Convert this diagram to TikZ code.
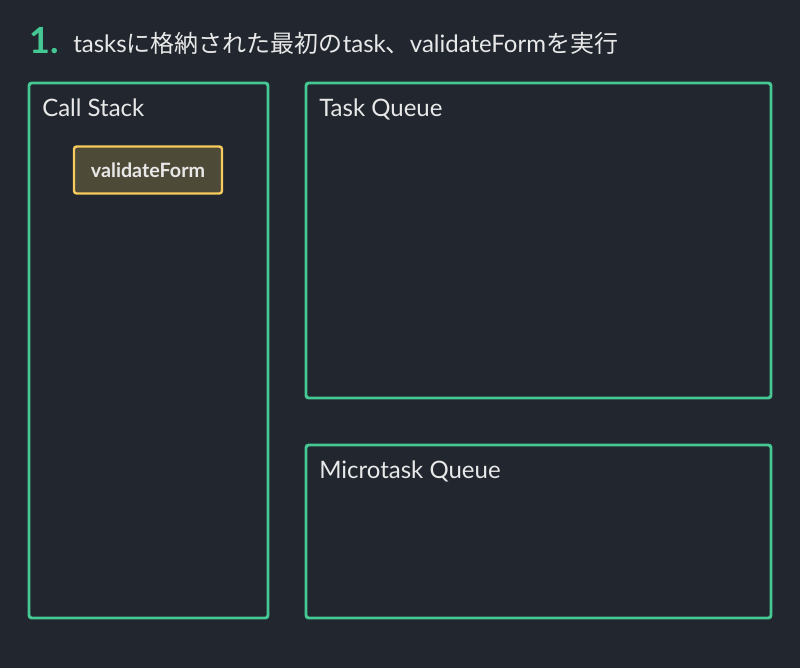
\documentclass[tikz,border=0pt]{standalone}
\usepackage{fontspec}
\setmainfont{Lato}
\newfontfamily\cjk{Noto Sans CJK JP}
\usetikzlibrary{positioning}
\definecolor{bg}{HTML}{21262F}
\definecolor{mygreen}{HTML}{45C893}
\definecolor{myyellow}{HTML}{F7CB5E}
\definecolor{myfill}{HTML}{4E4A38}
\definecolor{mytext}{HTML}{E8E8E8}
\newlength\px
\setlength\px{0.75pt}
\tikzset{
  area/.style={draw=mygreen, line width=2.2pt, rounded corners=2pt, anchor=north west, inner sep=0pt, outer sep=0pt},
  title/.style={anchor=base west, inner sep=0pt, text=mytext, font=\fontsize{18}{20}\selectfont},
  frame/.style={draw=myyellow, fill=myfill, line width=1.8pt, rounded corners=2pt, text=mytext,
    font=\bfseries\fontsize{14.8}{16}\selectfont, minimum width=148\px, minimum height=47\px}
}
\begin{document}
\begin{tikzpicture}[x=0.75pt,y=-0.75pt]
	\fill[bg] (0,0) rectangle (800,668);
	\useasboundingbox (0,0) rectangle (800,668);
	\node[anchor=base west, inner sep=0pt, text=mygreen, font=\bfseries\fontsize{27}{29}\selectfont] (num) at (29,53) {1.};
	\node[title] (head) at (73,52) {tasks{\cjk に格納された最初の}task{\cjk 、}validateForm{\cjk を実行}};
	\node[area, minimum width=239\px, minimum height=535\px] (stack) at (29,83) {};
	\node[area, minimum width=465\px, minimum height=315\px] (task) at (306,83) {};
	\node[area, minimum width=465\px, minimum height=173\px] (micro) at (306,445) {};
	\node[title] (stacklbl) at (42,116) {Call Stack};
	\node[title] (tasklbl) at (319,116) {Task Queue};
	\node[title] (microlbl) at (319,478) {Microtask Queue};
	\node[frame] (validate) at (148,170) {validateForm};
\end{tikzpicture}
\end{document}
